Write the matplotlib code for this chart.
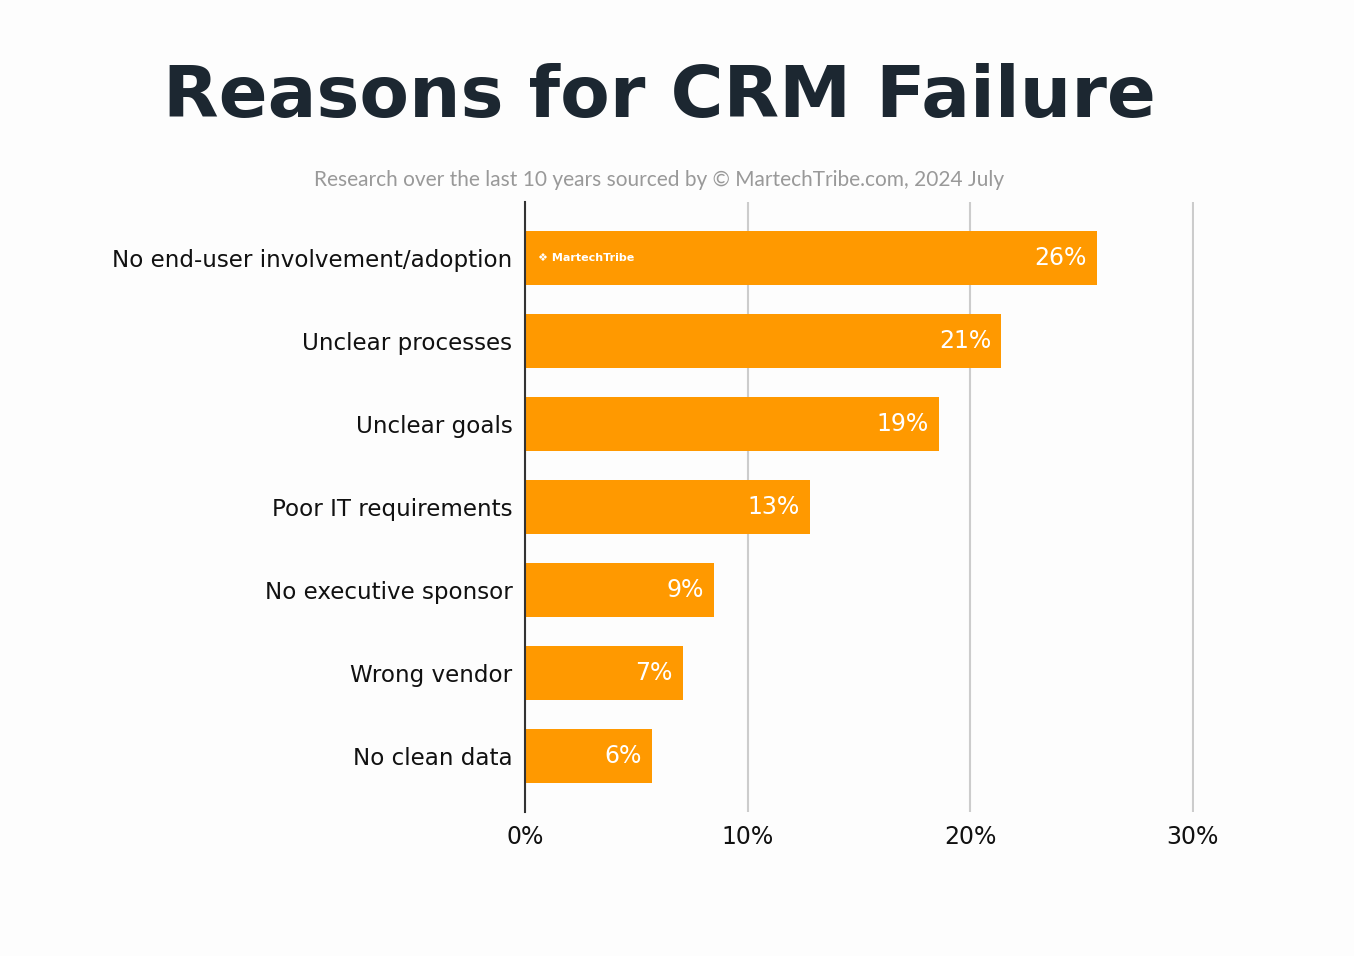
import matplotlib
matplotlib.use("Agg")
import matplotlib.pyplot as plt

reasons = ["No end-user involvement/adoption", "Unclear processes", "Unclear goals",
           "Poor IT requirements", "No executive sponsor", "Wrong vendor", "No clean data"]
shares = [25.7, 21.4, 18.6, 12.8, 8.5, 7.1, 5.7]
share_labels = ["26%", "21%", "19%", "13%", "9%", "7%", "6%"]
xticks = [0, 10, 20, 30]
xtick_labels = ["0%", "10%", "20%", "30%"]

orange = "#ff9900"
bg = "#fdfdfd"

fig = plt.figure(figsize=(13.54, 9.56), dpi=100, facecolor=bg)
ax = fig.add_axes([0.3877, 0.1506, 0.4941, 0.6381], facecolor=bg)

pos = list(range(len(reasons)))
ax.barh(pos, shares, height=0.65, color=orange, zorder=3)
for y, v, lab in zip(pos, shares, share_labels):
    ax.text(v - 0.45, y, lab, ha="right", va="center", color="white",
            fontsize=17, fontfamily="DejaVu Sans", zorder=4)

# logo on the first bar
ax.text(0.6, 0, "\u2756 MartechTribe", ha="left", va="center", color="white",
        fontsize=8, fontweight="bold", fontfamily="DejaVu Sans", zorder=4)

ax.set_ylim(6.68, -0.68)
ax.set_xlim(0, 30.05)
ax.set_yticks(pos)
ax.set_yticklabels(reasons, fontsize=16.6, color="#111111", fontfamily="DejaVu Sans")
ax.set_xticks(xticks)
ax.set_xticklabels(xtick_labels, fontsize=17, color="#111111", fontfamily="DejaVu Sans")
ax.tick_params(length=0, axis="y", pad=9)
ax.tick_params(length=0, axis="x", pad=9)
ax.grid(axis="x", color="#cccccc", linewidth=1.5, zorder=0)
for s in ["top", "right", "bottom"]:
    ax.spines[s].set_visible(False)
ax.spines["left"].set_color("#333333")
ax.spines["left"].set_linewidth(1.5)
ax.spines["left"].set_zorder(5)

fig.text(0.487, 0.898, "Reasons for CRM Failure", ha="center", va="center",
         fontsize=52, fontweight="bold", fontfamily="DejaVu Sans", color="#1c2731")
fig.text(0.487, 0.812, "Research over the last 10 years sourced by \u00a9 MartechTribe.com, 2024 July",
         ha="center", va="center", fontsize=15, fontfamily="Lato",
         color="#999999")

fig.savefig("out.png", dpi=100, facecolor=bg)
